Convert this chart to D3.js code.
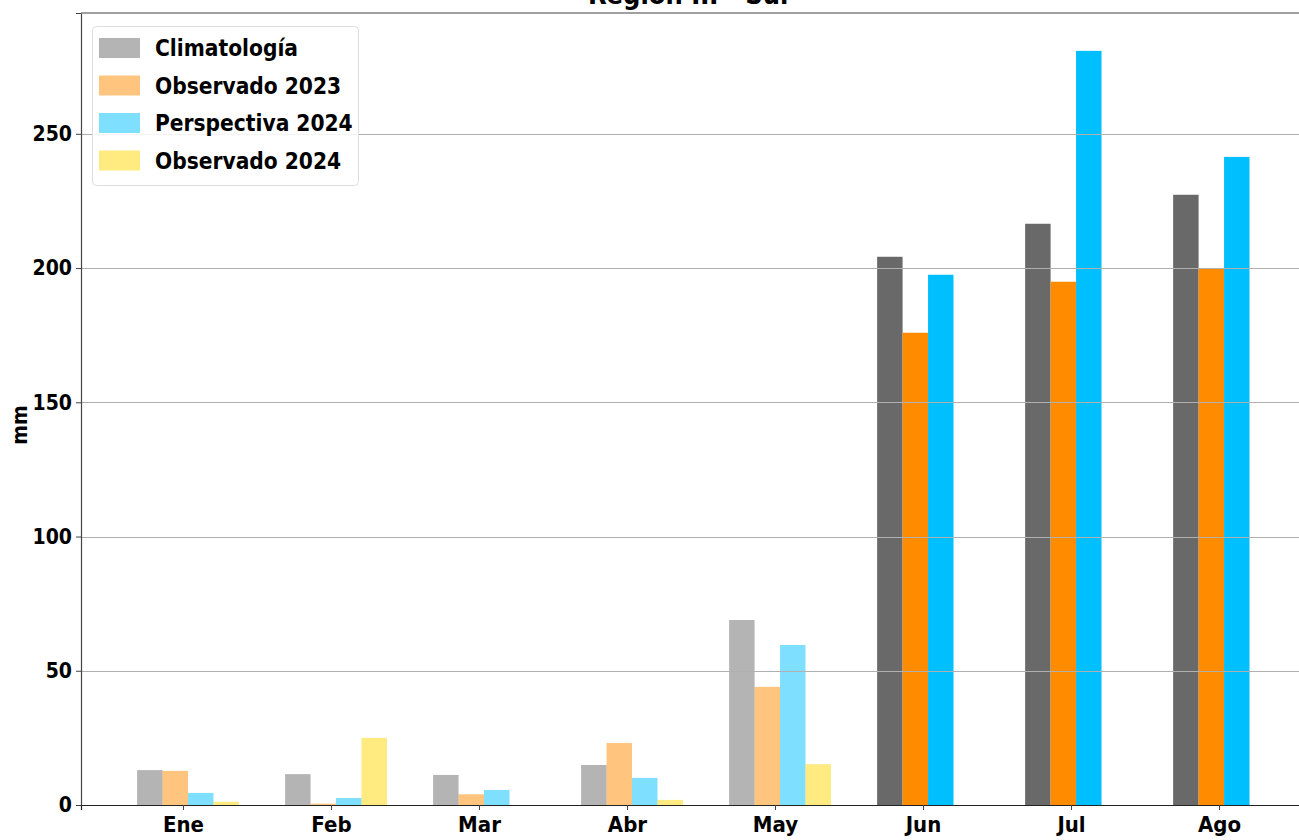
<!DOCTYPE html>
<html>
<head>
<meta charset="utf-8">
<script src="https://cdn.jsdelivr.net/npm/d3@7"></script>
<style>
  html, body { margin: 0; padding: 0; background: #ffffff; }
  svg { display: block; }
  text { font-family: "DejaVu Sans Condensed", "DejaVu Sans", sans-serif; font-weight: bold; font-stretch: condensed; }
</style>
</head>
<body>
<svg id="chart" width="1299" height="840"></svg>
<script>
// ---- data ----
const months = ["Ene", "Feb", "Mar", "Abr", "May", "Jun", "Jul", "Ago"];
const seriesNames = ["Climatología", "Observado 2023", "Perspectiva 2024", "Observado 2024"];
const climatologia   = [13.0, 11.5, 11.2, 14.9, 68.9, 204.2, 216.5, 227.3];
const observado2023  = [12.7, 0.5, 4.0, 23.1, 44.0, 175.9, 194.9, 199.7];
const perspectiva2024 = [4.5, 2.6, 5.6, 10.1, 59.6, 197.5, 280.9, 241.4];
const observado2024  = [1.2, 25.0, 0, 1.9, 15.2, null, null, null];
const yTicks = [0, 50, 100, 150, 200, 250];
const title = "Región III - Sur";
const yLabel = "mm";

// ---- styles ----
const baseColors = ["#696969", "#ff8c00", "#00bfff", "#ffd700"];
const pastMonths = 5; // months drawn semi-transparent

const svg = d3.select("#chart");
const W = 1299, H = 840;
const axLeft = 81, axTop = 13, axBottom = 805, axRight = 1321;

const x = d3.scaleLinear().domain([-0.689, 7.689]).range([axLeft, axRight]);
const y = d3.scaleLinear().domain([0, 295]).range([axBottom, axTop]);

const series = [climatologia, observado2023, perspectiva2024, observado2024];
const barW = 0.172, barStart = -0.31;

const bars = [];
series.forEach((vals, k) => {
  vals.forEach((v, i) => {
    if (v === null) return;
    bars.push({k, i, v});
  });
});

const gBars = svg.append("g");
gBars.selectAll("rect").data(bars).join("rect")
  .attr("x", d => x(d.i + barStart + d.k * barW))
  .attr("width", d => x(barW) - x(0))
  .attr("y", d => y(d.v))
  .attr("height", d => y(0) - y(d.v))
  .attr("fill", d => baseColors[d.k])
  .attr("fill-opacity", d => d.i < pastMonths ? 0.5 : 1);

// grid lines (drawn above bars)
svg.append("g").selectAll("line").data(yTicks.filter(t => t > 0)).join("line")
  .attr("x1", axLeft).attr("x2", W)
  .attr("y1", d => Math.round(y(d)) + 0.5).attr("y2", d => Math.round(y(d)) + 0.5)
  .attr("stroke", "#b0b0b0").attr("stroke-width", 1);

// axes
const yAxis = d3.axisLeft(y).tickValues(yTicks).tickSize(5).tickPadding(4);
const gy = svg.append("g").attr("transform", `translate(${axLeft},0)`).call(yAxis);
gy.select(".domain").attr("stroke", "#444").attr("stroke-width", 1.2);
gy.selectAll(".tick line").attr("stroke", "#444");
gy.selectAll(".tick text").attr("font-size", 21).attr("fill", "#000")
  .style("font-family", '"DejaVu Sans", sans-serif');

const xAxis = d3.axisBottom(x).tickValues(d3.range(months.length)).tickFormat(i => months[i]).tickSize(5).tickPadding(6);
const gx = svg.append("g").attr("transform", `translate(0,${axBottom})`).call(xAxis);
gx.select(".domain").attr("stroke", "#222").attr("stroke-width", 1.2);
gx.selectAll(".tick line").attr("stroke", "#444");
gx.selectAll(".tick text").attr("font-size", 22).attr("fill", "#000");

// top spine
svg.append("line").attr("x1", axLeft).attr("x2", W).attr("y1", axTop).attr("y2", axTop)
  .attr("stroke", "#808080").attr("stroke-width", 1.5);

// title (partly above the page edge, as in the reference)
svg.append("text").attr("x", 690).attr("y", 4).attr("text-anchor", "middle")
  .attr("font-size", 27).attr("fill", "#000").text(title);

// y label
svg.append("text").attr("transform", "translate(27,425) rotate(-90)")
  .attr("text-anchor", "middle").attr("font-size", 21).attr("fill", "#000").text(yLabel);

// legend
const lg = svg.append("g");
lg.append("rect").attr("x", 92.5).attr("y", 26.5).attr("width", 266).attr("height", 159)
  .attr("rx", 4).attr("fill", "#fff").attr("fill-opacity", 0.85)
  .attr("stroke", "#dddddd").attr("stroke-width", 1);
seriesNames.forEach((name, k) => {
  const cy = 48 + k * 37.5;
  lg.append("rect").attr("x", 99).attr("y", cy - 10).attr("width", 41).attr("height", 20)
    .attr("fill", baseColors[k]).attr("fill-opacity", 0.5);
  lg.append("text").attr("x", 155).attr("y", cy + 8).attr("font-size", 22.5).attr("fill", "#000").text(name);
});
</script>
</body>
</html>
